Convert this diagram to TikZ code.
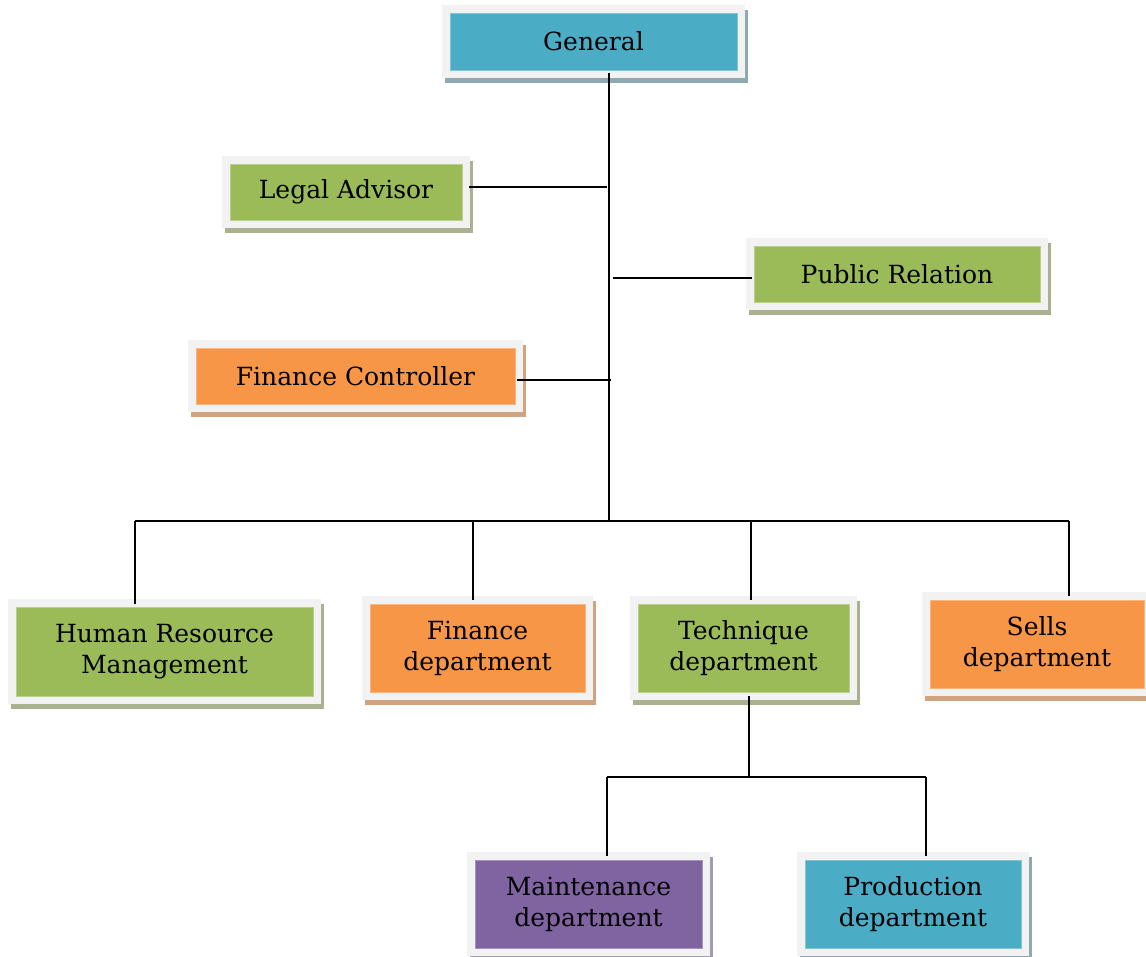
\documentclass[tikz,border=0pt]{standalone}
\usepackage{fontspec}
\setmainfont{DejaVu Serif}
\definecolor{cblue}{HTML}{4BACC6}
\definecolor{cgreen}{HTML}{9BBB59}
\definecolor{corange}{HTML}{F79646}
\definecolor{cpurple}{HTML}{8064A2}
\definecolor{sblue}{HTML}{8FA9B0}
\definecolor{sgreen}{HTML}{A9B18F}
\definecolor{sorange}{HTML}{D0A481}
\definecolor{spurple}{HTML}{A39CB2}
\definecolor{frame}{HTML}{F2F2F2}
\tikzset{
  orgbox/.style n args={4}{
    preaction={draw=#2, line width=16pt, line join=miter, transform canvas={shift={(3pt,-5pt)}}},
    preaction={draw=frame, line width=16pt, line join=miter},
    fill=#1, draw=#1!70!white, line width=0.8pt,
    minimum width=#3, minimum height=#4, inner sep=0pt,
    align=center, font=\fontsize{25}{31}\selectfont, text=black},
  conn/.style={draw=black, line width=2pt}
}
\begin{document}
\begin{tikzpicture}[x=1pt,y=-1pt]
\useasboundingbox (0,0) rectangle (1146,956);
\begin{scope}
\clip (0,0) rectangle (1146,956);
\node[orgbox={cblue}{sblue}{287pt}{57pt}] (general) at (593.5,41.5) {General};
\node[orgbox={cgreen}{sgreen}{232pt}{56pt}] (legal) at (346,192) {Legal Advisor};
\node[orgbox={cgreen}{sgreen}{286pt}{56pt}] (public) at (897,274) {Public Relation};
\node[orgbox={corange}{sorange}{319pt}{56pt}] (finctrl) at (355.5,376) {Finance Controller};
\node[orgbox={cgreen}{sgreen}{297pt}{89pt}] (hrm) at (164.5,651.5) {Human Resource\\Management};
\node[orgbox={corange}{sorange}{215pt}{88pt}] (findept) at (477.5,648) {Finance\\department};
\node[orgbox={cgreen}{sgreen}{211pt}{88pt}] (tech) at (743.5,648) {Technique\\department};
\node[orgbox={corange}{sorange}{214pt}{88pt}] (sells) at (1037,644) {Sells\\department};
\node[orgbox={cpurple}{spurple}{227pt}{88pt}] (maint) at (588.5,904) {Maintenance\\department};
\node[orgbox={cblue}{sblue}{216pt}{88pt}] (prod) at (913,904) {Production\\department};
\end{scope}
% junction coordinates
\coordinate (trunk) at (609,521);
\coordinate (busL) at (135,521);
\coordinate (busR) at (1069,521);
\coordinate (techbus) at (749,777);
\coordinate (tbusL) at (607,777);
\coordinate (tbusR) at (926,777);
% connectors
\draw[conn] ([shift={(15.5,3)}]general.south) -- (trunk);
\draw[conn] ([shift={(7,-5)}]legal.east) -- ++(138,0);
\draw[conn] ([shift={(-2,4)}]public.west) -- ++(-139,0);
\draw[conn] ([shift={(2,4)}]finctrl.east) -- ++(94,0);
\draw[conn] (busL) -- (busR);
\draw[conn] (busL) -- ([shift={(-29.5,-3)}]hrm.north);
\draw[conn] (busL -| findept.north) ++(-4.5,0) -- ([shift={(-4.5,-4)}]findept.north);
\draw[conn] (busL -| tech.north) ++(7.5,0) -- ([shift={(7.5,-4)}]tech.north);
\draw[conn] (busR) -- ([shift={(32,-4)}]sells.north);
\draw[conn] ([shift={(5.5,4)}]tech.south) -- (techbus);
\draw[conn] (tbusL) -- (tbusR);
\draw[conn] (tbusL) -- ([shift={(18.5,-4)}]maint.north);
\draw[conn] (tbusR) -- ([shift={(13,-4)}]prod.north);
\end{tikzpicture}
\end{document}
